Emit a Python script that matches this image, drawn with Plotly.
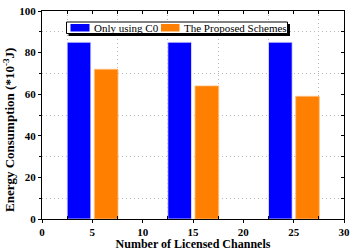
import plotly.graph_objects as go

channels = [5, 15, 25]
only_c0 = [85, 85, 85]
proposed = [72, 64, 59]
series_names = ["Only using C0", "The Proposed Schemes"]
series_colors = ["#0000ff", "#ff8000"]
x_ticks = [0, 5, 10, 15, 20, 25, 30]
y_ticks = [0, 20, 40, 60, 80, 100]
x_title = "<b>Number of Licensed Channels</b>"
y_title = "<b>Energy Consumption (*10<sup>-3</sup>J)</b>"

FONT = "Liberation Serif"
W, H = 357, 251
ML, MR, MT, MB = 42, 13, 11, 32
PW, PH = W - ML - MR, H - MT - MB


def fx(px):
    return (px - ML) / PW


def fy(py):
    return (H - MB - py) / PH


fig = go.Figure()
fig.add_trace(go.Bar(
    x=channels, y=only_c0, name=series_names[0], showlegend=False,
    width=2.35, offset=-2.5,
    marker=dict(color=series_colors[0], line=dict(color="#e8e8ff", width=0.8)),
))
fig.add_trace(go.Bar(
    x=channels, y=proposed, name=series_names[1], showlegend=False,
    width=2.35, offset=0.2,
    marker=dict(color=series_colors[1], line=dict(color="#ffc080", width=0.8)),
))
fig.add_trace(go.Scatter(x=[None], y=[None], xaxis="x2", yaxis="y2",
                         showlegend=False, hoverinfo="skip"))

axis_common = dict(
    showline=True, linecolor="black", linewidth=1,
    zeroline=False, showgrid=False, automargin=False,
    tickfont=dict(family=FONT, size=11, color="black", weight="bold"),
)
GRID = dict(showgrid=True, gridcolor="#b8b8b8", griddash="1px,3px", gridwidth=1)

# hand-drawn legend box with drop shadow (matches reference's compact legend)
shapes = [
    dict(type="rect", xref="paper", yref="paper",
         x0=fx(68.5), x1=fx(290), y0=fy(36), y1=fy(24),
         fillcolor="black", line=dict(width=0), layer="above"),
    dict(type="rect", xref="paper", yref="paper",
         x0=fx(66.5), x1=fx(287.5), y0=fy(33.5), y1=fy(22),
         fillcolor="white", line=dict(color="black", width=1), layer="above"),
    dict(type="rect", xref="paper", yref="paper",
         x0=fx(70.5), x1=fx(89.5), y0=fy(31.5), y1=fy(24),
         fillcolor=series_colors[0], line=dict(width=0), layer="above"),
    dict(type="rect", xref="paper", yref="paper",
         x0=fx(161), x1=fx(179.5), y0=fy(31.5), y1=fy(24),
         fillcolor=series_colors[1], line=dict(width=0), layer="above"),
]
annotations = [
    dict(text=series_names[0], xref="paper", yref="paper", x=fx(92), y=fy(27.8),
         xanchor="left", yanchor="middle", showarrow=False,
         font=dict(family=FONT, size=11, color="black")),
    dict(text=series_names[1], xref="paper", yref="paper", x=fx(181.5), y=fy(27.8),
         xanchor="left", yanchor="middle", showarrow=False,
         font=dict(family=FONT, size=11, color="black")),
    dict(text=y_title, xref="paper", yref="paper", x=fx(9), y=fy(130),
         xanchor="center", yanchor="middle", textangle=-90, showarrow=False,
         font=dict(family=FONT, size=13, color="black")),
]

fig.update_layout(
    width=W, height=H,
    margin=dict(l=ML, r=MR, t=MT, b=MB),
    paper_bgcolor="white", plot_bgcolor="white",
    barmode="overlay",
    showlegend=False,
    font=dict(family=FONT, color="black"),
    shapes=shapes,
    annotations=annotations,
    xaxis=dict(
        range=[0, 30], tickvals=x_ticks, ticks="outside", ticklen=3, tickcolor="black",
        title=dict(text=x_title, font=dict(family=FONT, size=12, color="black"), standoff=1),
        minor=dict(tick0=2.5, dtick=5, ticks="inside", ticklen=3, tickcolor="black", **GRID),
        **axis_common,
    ),
    yaxis=dict(
        range=[0, 100], tickvals=y_ticks, ticks="outside", ticklen=3, tickcolor="black",
        minor=dict(tick0=10, dtick=20, ticks="outside", ticklen=2, tickcolor="black", **GRID),
        **axis_common,
    ),
    xaxis2=dict(overlaying="x", side="top", range=[0, 30], dtick=2.5, tick0=0,
                ticks="inside", ticklen=3, tickcolor="black", showticklabels=False, showgrid=False,
                zeroline=False, showline=True, linecolor="black", linewidth=1, automargin=False),
    yaxis2=dict(overlaying="y", side="right", range=[0, 100], dtick=10, tick0=0,
                ticks="inside", ticklen=3, tickcolor="black", showticklabels=False, showgrid=False,
                zeroline=False, showline=True, linecolor="black", linewidth=1, automargin=False),
)

fig.write_html("out.html", config={"displayModeBar": False},
               post_script="document.body.style.margin='0';")
